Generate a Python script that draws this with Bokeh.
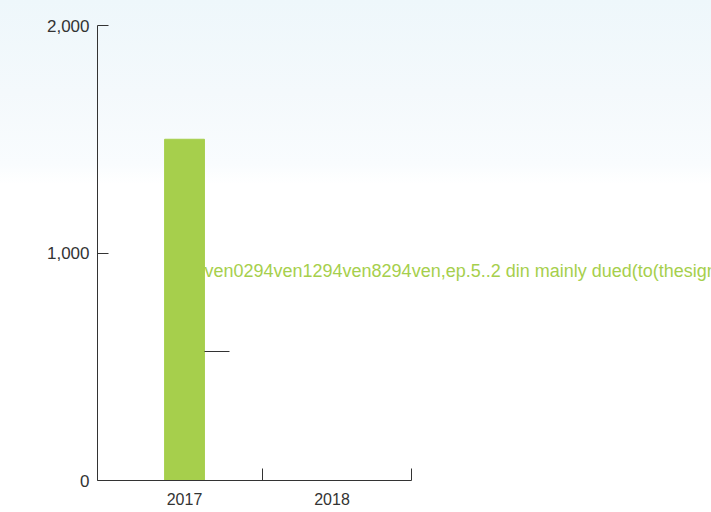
from bokeh.plotting import figure
from bokeh.models import Range1d, FixedTicker, NumeralTickFormatter, Label
from bokeh.embed import file_html
from bokeh.resources import INLINE

# data
years = ["2017", "2018"]
values = [1500, 0]
y_ticks = [0, 1000, 2000]
note_text = "ven0294ven1294ven8294ven,ep.5..2 din mainly dued(to(thesignificant"
note_value = 920
leader_value = 567

x_pos = [i + 0.5 for i in range(len(years))]
bar_w = 0.27
x_start, x_axis_end = -0.09, 2.04

p = figure(width=711, height=512, output_backend="svg", toolbar_location=None,
           x_range=Range1d(x_start, x_start + 614 / 147.5), y_range=Range1d(0, 2000))
p.min_border_left = 97
p.min_border_top = 25
p.min_border_right = 0
p.min_border_bottom = 32
p.background_fill_alpha = 0
p.border_fill_alpha = 0
p.outline_line_color = None
p.grid.visible = False
p.styles = {"background-image": "linear-gradient(to bottom, #eef7fb 0%, #f4f9fc 18%, #f9fcfe 32%, #ffffff 36%, #ffffff 100%)"}

p.vbar(x=[x_pos[0]], top=[values[0]], width=bar_w, color="#a6cf4c")

# leader line
p.segment(x0=[x_pos[0] + bar_w / 2], x1=[x_pos[0] + bar_w / 2 + 0.17],
          y0=[leader_value], y1=[leader_value], line_color="#333333", line_width=1)

p.add_layout(Label(x=x_pos[0] + bar_w / 2, y=note_value, text=note_text,
                   text_color="#a6cf4c", text_font="Liberation Sans",
                   text_font_size="18px", text_baseline="middle"))

xt = FixedTicker(ticks=x_pos, minor_ticks=[1.03, x_axis_end])
p.xaxis.ticker = xt
p.xaxis.bounds = (x_start, x_axis_end)
p.xaxis.major_label_overrides = {x: y for x, y in zip(x_pos, years)}
p.xaxis.major_tick_in = 0
p.xaxis.major_tick_out = 0
p.xaxis.minor_tick_in = 12
p.xaxis.minor_tick_out = 0
p.xaxis.major_label_standoff = 12

p.yaxis.ticker = FixedTicker(ticks=y_ticks)
p.yaxis.formatter = NumeralTickFormatter(format="0,0")
p.yaxis.major_tick_in = 11
p.yaxis.major_tick_out = 0
p.yaxis.minor_tick_in = 0
p.yaxis.minor_tick_out = 0
p.yaxis.major_label_standoff = 8

for ax in (p.xaxis, p.yaxis):
    ax.axis_line_color = "#333333"
    ax.major_tick_line_color = "#333333"
    ax.minor_tick_line_color = "#333333"
    ax.major_label_text_color = "#333333"
    ax.major_label_text_font = "Liberation Sans"
p.xaxis.major_label_text_font_size = "16px"
p.yaxis.major_label_text_font_size = "17px"

open("out.html", "w").write(file_html(p, INLINE))
